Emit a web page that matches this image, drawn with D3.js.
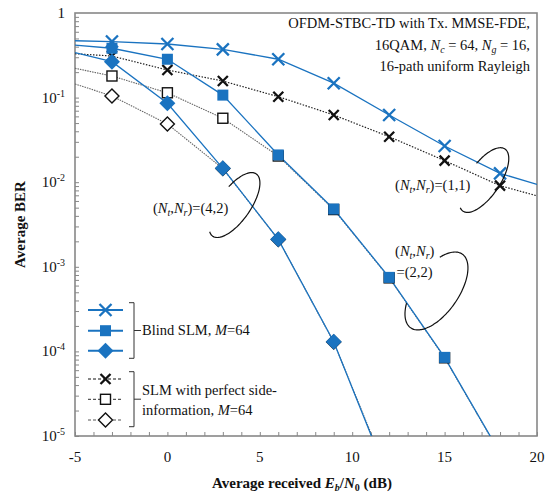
<!DOCTYPE html>
<html>
<head>
<meta charset="utf-8">
<script src="https://cdn.jsdelivr.net/npm/d3@7"></script>
<style>
  body { margin: 0; background: #fff; }
  text { font-family: "Liberation Serif", "Times New Roman", serif; fill: #111; }
</style>
</head>
<body>
<div id="chart"></div>
<script>
// Eb/N0 (dB) where each curve was computed; markers every 3 dB from -3 to 18
const snr = [-5, -3, 0, 3, 6, 9, 12, 15, 18, 20];
const markerSnr = [-3, 0, 3, 6, 9, 12, 15, 18];

// (Nt,Nr)=(1,1)
const blind11   = [0.47, 0.46, 0.430, 0.372, 0.284, 0.148, 0.0623, 0.0268, 0.0127, 0.0094];
const perfect11 = [0.33, 0.31, 0.212, 0.157, 0.1025, 0.0623, 0.0345, 0.018, 0.0091, 0.0069];
// (Nt,Nr)=(2,2)
const blind22   = [0.418, 0.383, 0.284, 0.107, 0.0210, 0.00482, 7.5e-4, 8.5e-5, 6.3e-6];
const perfect22 = [0.222, 0.180, 0.114, 0.057, 0.0204, 0.00475, 7.4e-4, 8.4e-5, 6.2e-6];
// (Nt,Nr)=(4,2)
const blind42   = [0.34, 0.266, 0.0857, 0.0146, 0.00211, 1.30e-4, 3.0e-6];
const perfect42 = [0.145, 0.1045, 0.0488, 0.0145, 0.0021, 1.29e-4, 3.2e-6];

const xTicks = [-5, 0, 5, 10, 15, 20];
const yDecades = [1, 1e-1, 1e-2, 1e-3, 1e-4, 1e-5];

const blue = "#1a73c0";

const margin = {top: 13, right: 14, bottom: 59, left: 75},
      width = 551 - margin.left - margin.right,
      height = 495 - margin.top - margin.bottom;

const svg = d3.select("#chart")
  .append("svg")
    .attr("width", 551)
    .attr("height", 495)
  .append("g")
    .attr("transform", `translate(${margin.left},${margin.top})`);

const x = d3.scaleLinear().domain([-5, 20]).range([0, width]);
const y = d3.scaleLog().domain([1e-5, 1]).range([height, 0]);

svg.append("clipPath").attr("id", "plotClip")
  .append("rect").attr("width", width).attr("height", height);

// axes with inward ticks
const xMinor = d3.range(-5, 21, 1);
svg.append("g")
    .attr("transform", `translate(0,${height})`)
    .call(d3.axisBottom(x).tickValues(xMinor).tickSize(-4).tickFormat(""))
    .call(g => g.select(".domain").remove())
    .call(g => g.selectAll("line").attr("stroke", "#888"));

const yMinor = [];
[1e-5, 1e-4, 1e-3, 1e-2, 1e-1].forEach(d => { for (let k = 1; k < 10; k++) yMinor.push(d * k); });
svg.append("g")
    .call(d3.axisLeft(y).tickValues(yMinor).tickSize(-4).tickFormat(""))
    .call(g => g.select(".domain").remove())
    .call(g => g.selectAll("line").attr("stroke", "#888"));

// frame
svg.append("rect")
    .attr("width", width).attr("height", height)
    .attr("fill", "none").attr("stroke", "#888").attr("stroke-width", 1.6);

// tick labels
svg.append("g").selectAll("text")
  .data(xTicks)
  .join("text")
    .attr("x", d => x(d))
    .attr("y", height + 26)
    .attr("text-anchor", "middle")
    .style("font-size", "15px")
    .text(d => d);

const yLab = svg.append("g").selectAll("text")
  .data(yDecades)
  .join("text")
    .attr("x", -10)
    .attr("y", d => y(d) + 5)
    .attr("text-anchor", "end")
    .style("font-size", "15px");
yLab.each(function(d) {
  const t = d3.select(this);
  const e = Math.round(Math.log10(d));
  if (e === 0) { t.text("1"); return; }
  t.append("tspan").text("10");
  t.append("tspan").attr("dy", -6).style("font-size", "10px").text(e);
});

// axis titles
const xt = svg.append("text")
    .attr("x", width / 2 - 4)
    .attr("y", height + 52)
    .attr("text-anchor", "middle")
    .style("font-size", "15px")
    .style("font-weight", "bold");
xt.append("tspan").text("Average received ");
xt.append("tspan").style("font-style", "italic").text("E");
xt.append("tspan").attr("dy", 3).style("font-size", "10px").style("font-style", "italic").text("b");
xt.append("tspan").attr("dy", -3).text("/");
xt.append("tspan").style("font-style", "italic").text("N");
xt.append("tspan").attr("dy", 3).style("font-size", "10px").text("0");
xt.append("tspan").attr("dy", -3).text(" (dB)");

svg.append("text")
    .attr("transform", `translate(-50,${height / 2}) rotate(-90)`)
    .attr("text-anchor", "middle")
    .style("font-size", "15px")
    .style("font-weight", "bold")
    .text("Average BER");

// markers
function cross(g, r, color) {
  g.append("path")
    .attr("d", `M${-r},${-r}L${r},${r}M${-r},${r}L${r},${-r}`)
    .attr("stroke", color).attr("stroke-width", 2.3).attr("fill", "none");
}
function square(g, s, fill, stroke) {
  g.append("rect").attr("x", -s / 2).attr("y", -s / 2).attr("width", s).attr("height", s)
    .attr("fill", fill).attr("stroke", stroke).attr("stroke-width", 1.4);
}
function diamond(g, r, fill, stroke) {
  g.append("path").attr("d", `M0,${-r}L${r},0L0,${r}L${-r},0Z`)
    .attr("fill", fill).attr("stroke", stroke).attr("stroke-width", 1.4);
}
const markerFns = {
  blindX:    g => cross(g, 6, blue),
  blindSq:   g => square(g, 11, blue, "none"),
  blindDi:   g => diamond(g, 8, blue, "none"),
  perfX:     g => cross(g, 5, "#111"),
  perfSq:    g => square(g, 10, "#fff", "#111"),
  perfDi:    g => diamond(g, 7, "#fff", "#111")
};

const series = [
  {vals: perfect11, stroke: "#222", dash: "1.5,1.5", w: 1.2, marker: "perfX"},
  {vals: perfect22, stroke: "#666", dash: "1.5,1", w: 1.1, marker: "perfSq"},
  {vals: perfect42, stroke: "#666", dash: "1.5,1", w: 1.1, marker: "perfDi"},
  {vals: blind11, stroke: blue, dash: null, w: 1.3, marker: "blindX"},
  {vals: blind22, stroke: blue, dash: null, w: 1.3, marker: "blindSq"},
  {vals: blind42, stroke: blue, dash: null, w: 1.3, marker: "blindDi"}
];

const line = d3.line().x(d => x(d[0])).y(d => y(d[1]));
const lines = svg.append("g").attr("clip-path", "url(#plotClip)");

series.forEach(s => {
  const pts = s.vals.map((v, i) => [snr[i], v]);
  lines.append("path")
    .datum(pts)
    .attr("d", line)
    .attr("fill", "none")
    .attr("stroke", s.stroke)
    .attr("stroke-width", s.w)
    .attr("stroke-dasharray", s.dash);
  s.pts = pts;
});
series.forEach(s => {
  svg.append("g").selectAll("g")
    .data(s.pts.filter(p => markerSnr.includes(p[0]) && p[1] >= 1e-5))
    .join("g")
      .attr("transform", d => `translate(${x(d[0])},${y(d[1])})`)
      .each(function() { markerFns[s.marker](d3.select(this)); });
});

// (Nt,Nr) annotations: label position and loop centre in data units
const annLabels = [
  {lines: [["(", "N", "t", ",", "N", "r", ")=(1,1)"]], at: [12.32, 0.0081]},
  {lines: [["(", "N", "t", ",", "N", "r", ")=(4,2)"]], at: [-0.78, 0.0043]},
  {lines: [["(", "N", "t", ",", "N", "r", ")"], ["=(2,2)"]], at: [12.32, 1.34e-3]}
];
annLabels.forEach(a => {
  a.lines.forEach((parts, li) => {
    const t = svg.append("text")
      .attr("x", x(a.at[0]) + (li ? 1.5 : 0))
      .attr("y", y(a.at[1]) + li * 21)
      .style("font-size", "14.5px");
    if (parts.length === 1) { t.text(parts[0]); return; }
    t.append("tspan").text(parts[0]);
    t.append("tspan").style("font-style", "italic").text(parts[1]);
    t.append("tspan").attr("dy", 3).style("font-size", "10px").style("font-style", "italic").text(parts[2]);
    t.append("tspan").attr("dy", -3).text(parts[3]);
    t.append("tspan").style("font-style", "italic").text(parts[4]);
    t.append("tspan").attr("dy", 3).style("font-size", "10px").style("font-style", "italic").text(parts[5]);
    t.append("tspan").attr("dy", -3).text(parts[6]);
  });
});

const loops = [
  {c: [17.13, 0.0106], a: 37.5, b: 16, rot: -56, t0: -75, t1: 196},
  {c: [3.63, 0.00537], a: 38, b: 16, rot: -55, t0: -72, t1: 200},
  {c: [14.56, 5.18e-4], a: 45, b: 22, rot: -55, t0: -49, t1: 233}
];
loops.forEach(l => {
  const cx = x(l.c[0]), cy = y(l.c[1]);
  const th = l.rot * Math.PI / 180;
  const pts = d3.range(l.t0, l.t1 + 0.1, 3).map(td => {
    const t = td * Math.PI / 180;
    const u = l.a * Math.cos(t), v = l.b * Math.sin(t);
    return [cx + u * Math.cos(th) - v * Math.sin(th), cy + u * Math.sin(th) + v * Math.cos(th)];
  });
  svg.append("path")
    .attr("d", d3.line().curve(d3.curveCatmullRom)(pts))
    .attr("fill", "none").attr("stroke", "#111").attr("stroke-width", 1.2);
});

// system description, top right
const info = svg.append("text")
    .attr("text-anchor", "end")
    .style("font-size", "14.5px");
info.append("tspan").attr("x", width - 7).attr("y", 15).text("OFDM-STBC-TD with Tx. MMSE-FDE,");
const l2 = info.append("tspan").attr("x", width - 7).attr("y", 37);
l2.append("tspan").text("16QAM, ");
l2.append("tspan").style("font-style", "italic").text("N");
l2.append("tspan").attr("dy", 3).style("font-size", "10px").style("font-style", "italic").text("c");
l2.append("tspan").attr("dy", -3).text(" = 64, ");
l2.append("tspan").style("font-style", "italic").text("N");
l2.append("tspan").attr("dy", 3).style("font-size", "10px").style("font-style", "italic").text("g");
l2.append("tspan").attr("dy", -3).text(" = 16,");
info.append("tspan").attr("x", width - 7).attr("y", 58).text("16-path uniform Rayleigh");

// legend
const legendRows = [
  {marker: "blindX", stroke: blue, dash: null, w: 2, y: 297},
  {marker: "blindSq", stroke: blue, dash: null, w: 2, y: 317.7},
  {marker: "blindDi", stroke: blue, dash: null, w: 2, y: 337.7},
  {marker: "perfX", stroke: "#111", dash: "3,2", w: 1.2, y: 366},
  {marker: "perfSq", stroke: "#555", dash: "3,2", w: 1.2, y: 386.3},
  {marker: "perfDi", stroke: "#555", dash: "3,2", w: 1.2, y: 407}
];
const leg = svg.append("g");
legendRows.forEach(r => {
  leg.append("line")
    .attr("x1", 13).attr("x2", 48).attr("y1", r.y).attr("y2", r.y)
    .attr("stroke", r.stroke).attr("stroke-width", r.w).attr("stroke-dasharray", r.dash);
  const g = leg.append("g").attr("transform", `translate(30.5,${r.y})`);
  markerFns[r.marker](g);
});
function bracket(y0, y1) {
  const ym = (y0 + y1) / 2;
  leg.append("path")
    .attr("d", `M54,${y0}H59V${y1}H54M59,${ym}H66`)
    .attr("fill", "none").attr("stroke", "#333").attr("stroke-width", 1);
}
bracket(289.7, 345.3);
bracket(358.7, 413.7);

const lt1 = leg.append("text").attr("x", 67).attr("y", 322).style("font-size", "14.5px");
lt1.append("tspan").text("Blind SLM, ");
lt1.append("tspan").style("font-style", "italic").text("M");
lt1.append("tspan").text("=64");

const lt2 = leg.append("text").style("font-size", "14.5px");
lt2.append("tspan").attr("x", 67).attr("y", 382).text("SLM with perfect side-");
const lt2b = lt2.append("tspan").attr("x", 67).attr("y", 402);
lt2b.append("tspan").text("information, ");
lt2b.append("tspan").style("font-style", "italic").text("M");
lt2b.append("tspan").text("=64");
</script>
</body>
</html>
